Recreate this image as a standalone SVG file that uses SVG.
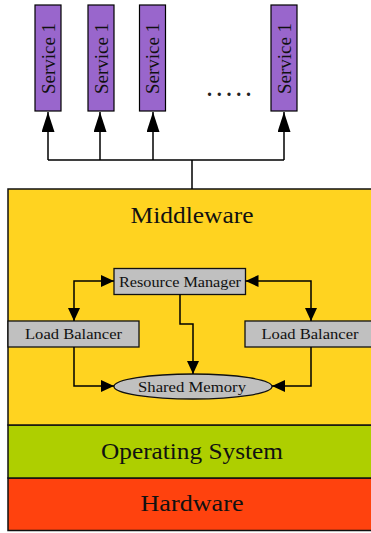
<svg xmlns="http://www.w3.org/2000/svg" width="371" height="533" viewBox="0 0 371 533">
<style>
.svc{fill:#9966CC;stroke:#000;stroke-width:1.2}
.svct{font-family:"Liberation Serif",serif;font-size:19px;fill:#111}
.layer{stroke:#111;stroke-width:1.5}
.big{font-family:"Liberation Serif",serif;font-size:24px;fill:#111;text-anchor:middle}
.box{fill:#C0C0C0;stroke:#111;stroke-width:1.3}
.small{font-family:"Liberation Serif",serif;font-size:15px;fill:#111;text-anchor:middle}
.ln{fill:none;stroke:#000;stroke-width:1.5}
</style>
<defs>
<marker id="big" markerUnits="userSpaceOnUse" markerWidth="21" markerHeight="14" refX="20" refY="6.5" orient="auto">
<path d="M0,0 L20,6.5 L0,13 z" fill="#000"/>
</marker>
<marker id="ah" markerUnits="userSpaceOnUse" markerWidth="14" markerHeight="13" refX="13" refY="6" orient="auto-start-reverse">
<path d="M0,0 L13,6 L0,12 z" fill="#000"/>
</marker>
</defs>
<rect width="371" height="533" fill="#fff"/>

<g id="hardware">
<rect class="layer" x="8" y="478" width="368" height="52.5" fill="#FF420E"/>
<text class="big" x="192" y="511" textLength="103" lengthAdjust="spacingAndGlyphs">Hardware</text>
</g>
<g id="os">
<rect class="layer" x="8" y="425" width="368" height="53" fill="#AECF00"/>
<text class="big" x="192" y="459" textLength="182" lengthAdjust="spacingAndGlyphs">Operating System</text>
</g>
<g id="middleware">
<rect class="layer" x="8" y="189" width="368" height="236" fill="#FFD320"/>
<text class="big" x="192" y="223" textLength="123" lengthAdjust="spacingAndGlyphs">Middleware</text>
</g>

<g id="service1">
<rect class="svc" x="35" y="5" width="26" height="106"/>
<text class="svct" transform="translate(54.5,58.5) rotate(-90)" text-anchor="middle" textLength="71" lengthAdjust="spacingAndGlyphs">Service 1</text>
</g>
<g id="service2">
<rect class="svc" x="88" y="5" width="26" height="106"/>
<text class="svct" transform="translate(107.5,58.5) rotate(-90)" text-anchor="middle" textLength="71" lengthAdjust="spacingAndGlyphs">Service 1</text>
</g>
<g id="service3">
<rect class="svc" x="139.5" y="5" width="26" height="106"/>
<text class="svct" transform="translate(159,58.5) rotate(-90)" text-anchor="middle" textLength="71" lengthAdjust="spacingAndGlyphs">Service 1</text>
</g>
<g id="service4">
<rect class="svc" x="271" y="5" width="26" height="106"/>
<text class="svct" transform="translate(290.5,58.5) rotate(-90)" text-anchor="middle" textLength="71" lengthAdjust="spacingAndGlyphs">Service 1</text>
</g>
<g id="dots">
<text x="207" y="96" font-family="Liberation Serif, serif" font-size="20" font-weight="bold" fill="#222" textLength="44" lengthAdjust="spacing">.....</text>
</g>

<g id="resource-manager">
<rect class="box" x="114" y="268.5" width="131.5" height="26"/>
<text class="small" x="180" y="287" textLength="122" lengthAdjust="spacingAndGlyphs">Resource Manager</text>
</g>
<g id="load-balancer-left">
<rect class="box" x="8" y="321" width="131" height="26"/>
<text class="small" x="73.5" y="338.5" textLength="97" lengthAdjust="spacingAndGlyphs">Load Balancer</text>
</g>
<g id="load-balancer-right">
<rect class="box" x="245" y="321" width="131" height="26"/>
<text class="small" x="310" y="338.5" textLength="97" lengthAdjust="spacingAndGlyphs">Load Balancer</text>
</g>
<g id="shared-memory">
<ellipse class="box" cx="193" cy="386.5" rx="79" ry="12.5"/>
<text class="small" x="192" y="391.5" textLength="108" lengthAdjust="spacingAndGlyphs">Shared Memory</text>
</g>

<g id="connectors">
<path class="ln" d="M192,189 V160 M48,160 H284"/>
<path class="ln" d="M48,160 V112" marker-end="url(#big)"/>
<path class="ln" d="M100,160 V112" marker-end="url(#big)"/>
<path class="ln" d="M153,160 V112" marker-end="url(#big)"/>
<path class="ln" d="M284,160 V112" marker-end="url(#big)"/>
<path class="ln" d="M114,281 H74 V321" marker-start="url(#ah)" marker-end="url(#ah)"/>
<path class="ln" d="M245.5,281 H311 V321" marker-start="url(#ah)" marker-end="url(#ah)"/>
<path class="ln" d="M180,294.5 V324 H193 V374" marker-end="url(#ah)"/>
<path class="ln" d="M74,347 V386 H114" marker-end="url(#ah)"/>
<path class="ln" d="M311,347 V386 H272" marker-end="url(#ah)"/>
</g>
</svg>
